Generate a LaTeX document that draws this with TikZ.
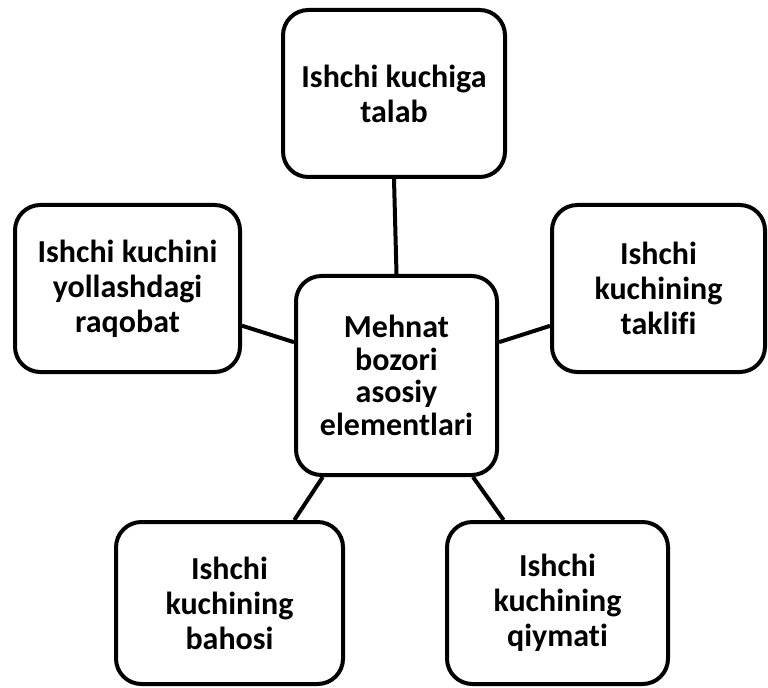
\documentclass[tikz,border=0pt]{standalone}
\usepackage{fontspec}
\setmainfont{Carlito}[Ligatures=NoCommon]
\begin{document}
\begin{tikzpicture}[x=0.75pt,y=-0.75pt,
  card/.style={draw=black,line width=3pt,rounded corners=19pt,fill=white,
    align=center,font=\fontsize{24}{26.3}\selectfont\bfseries,inner sep=0pt},
  link/.style={draw=black,line width=3pt}]
  \useasboundingbox (0,0) rectangle (768,688);
  % centre node and the five elements around it
  \node[card,font=\fontsize{24}{24.4}\selectfont\bfseries,
        minimum width=201*0.75pt,minimum height=199*0.75pt] (c) at (396.5,375.5)
    {Mehnat\\bozori\\asosiy\\elementlari};
  \node[card,minimum width=222*0.75pt,minimum height=167*0.75pt] (top) at (394,93.5)
    {Ishchi kuchiga\\talab};
  \node[card,minimum width=225*0.75pt,minimum height=167*0.75pt] (lft) at (127.5,288.5)
    {Ishchi kuchini\\yollashdagi\\raqobat};
  \node[card,minimum width=213*0.75pt,minimum height=167*0.75pt] (rgt) at (658.5,288.5)
    {Ishchi\\kuchining\\taklifi};
  \node[card,minimum width=227*0.75pt,minimum height=162*0.75pt] (bl) at (229.5,603)
    {Ishchi\\kuchining\\bahosi};
  \node[card,minimum width=221*0.75pt,minimum height=162*0.75pt] (br) at (557.5,603)
    {Ishchi\\kuchining\\qiymati};
  % connectors
  \draw[link] (top.south) -- (c.north);
  \draw[link] (lft.-18) -- (c.162);
  \draw[link] (c.18) -- (rgt.-161);
  \draw[link] (c.-126) -- (bl.52);
  \draw[link] (c.-53) -- (br.123);
\end{tikzpicture}
\end{document}
